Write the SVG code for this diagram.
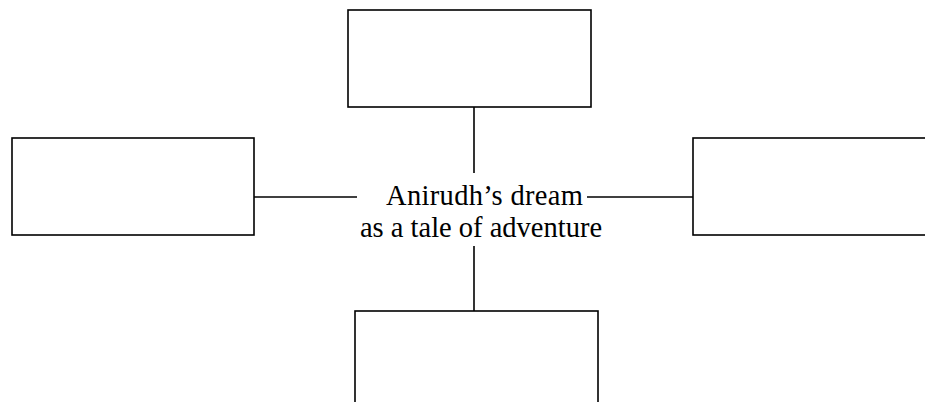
<svg xmlns="http://www.w3.org/2000/svg" width="925" height="402" viewBox="0 0 925 402">
<style>
.box{fill:#fff;stroke:#000;stroke-width:1.6}
.conn line{stroke:#000;stroke-width:1.6}
.lbl{font-family:"Liberation Serif","Times New Roman",serif;font-size:28.5px;fill:#000}
</style>
<rect width="925" height="402" fill="#fff"/>
<g id="connectors" class="conn">
<line x1="474" y1="107" x2="474" y2="173"/>
<line x1="254" y1="197" x2="357" y2="197"/>
<line x1="587" y1="197" x2="693" y2="197"/>
<line x1="474" y1="246" x2="474" y2="311"/>
</g>
<g id="top"><rect class="box" x="348" y="10" width="243" height="97"/></g>
<g id="left"><rect class="box" x="12" y="138" width="242" height="97"/></g>
<g id="right"><rect class="box" x="693" y="138" width="250" height="97"/></g>
<g id="bottom"><rect class="box" x="355" y="311" width="243" height="110"/></g>
<g id="center">
<text class="lbl" x="386" y="205" textLength="197" lengthAdjust="spacing">Anirudh’s dream</text>
<text class="lbl" x="481" y="237" text-anchor="middle">as a tale of adventure</text>
</g>
</svg>
